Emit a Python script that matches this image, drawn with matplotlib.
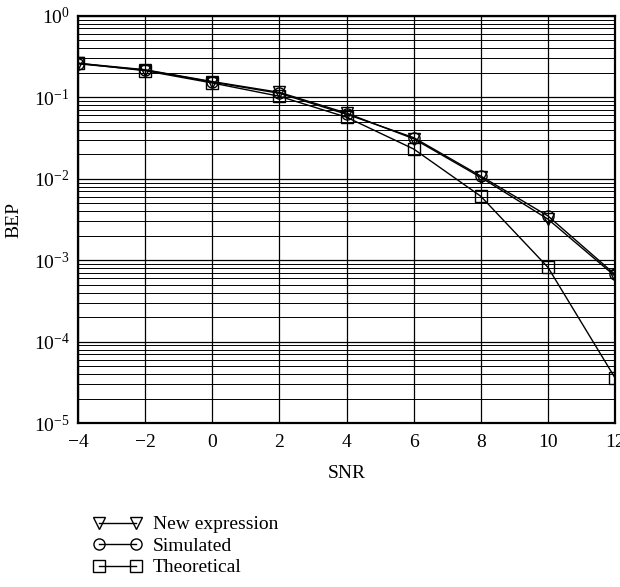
import numpy as np
import matplotlib.pyplot as plt
from matplotlib.ticker import LogLocator, NullFormatter

# --- Daten ---
snr = [-4, -2, 0, 2, 4, 6, 8, 10, 12]
bep_new = [0.262, 0.218, 0.156, 0.115, 0.064, 0.031, 0.0104, 0.0032, 0.00064]
bep_sim = [0.258, 0.216, 0.154, 0.112, 0.062, 0.032, 0.0108, 0.0035, 0.00067]
bep_theo = [0.262, 0.212, 0.150, 0.103, 0.057, 0.0232, 0.0061, 0.00082, 0.000036]

labels = ["New expression", "Simulated", "Theoretical"]
x_ticks = [-4, -2, 0, 2, 4, 6, 8, 10, 12]

plt.rcParams['font.family'] = ['Liberation Serif', 'DejaVu Serif']
plt.rcParams['mathtext.fontset'] = 'stix'

fig = plt.figure(figsize=(6.2, 5.87), dpi=100)
ax = fig.add_axes([0.126, 0.279, 0.866, 0.694])

mk = dict(color="black", linewidth=1.0, markerfacecolor="none",
          markeredgecolor="black", markersize=8, markeredgewidth=1.0)
ax.plot(snr, bep_new, marker="v", label=labels[0], **mk)
ax.plot(snr, bep_sim, marker="o", label=labels[1], **mk)
ax.plot(snr, bep_theo, marker="s", label=labels[2], **mk)

ax.set_yscale("log")
ax.set_ylim(1e-5, 1)
ax.set_xlim(-4, 12)
ax.set_xticks(x_ticks)
ax.set_xticklabels([str(t).replace("-", "\u2212") for t in x_ticks])
ax.yaxis.set_major_locator(LogLocator(base=10, numticks=10))
ax.yaxis.set_minor_locator(LogLocator(base=10, subs=np.arange(2, 10), numticks=20))
ax.yaxis.set_minor_formatter(NullFormatter())

ax.grid(True, which="major", color="black", linewidth=0.9)
ax.grid(True, which="minor", axis="y", color="black", linewidth=0.7)
ax.tick_params(which="both", direction="in", labelsize=14, length=0)
ax.tick_params(axis="x", pad=8)
ax.tick_params(axis="y", pad=6)
for s in ax.spines.values():
    s.set_linewidth(1.6)

ax.set_xlabel("SNR", fontsize=14, labelpad=10)
ax.set_ylabel("BEP", fontsize=14, labelpad=8)

fig.legend(loc="upper left", bbox_to_anchor=(0.135, 0.138), frameon=False,
           numpoints=2, handlelength=2.5, fontsize=14, labelspacing=0.2,
           handletextpad=0.55, borderpad=0)

fig.savefig("out.png", dpi=100)
